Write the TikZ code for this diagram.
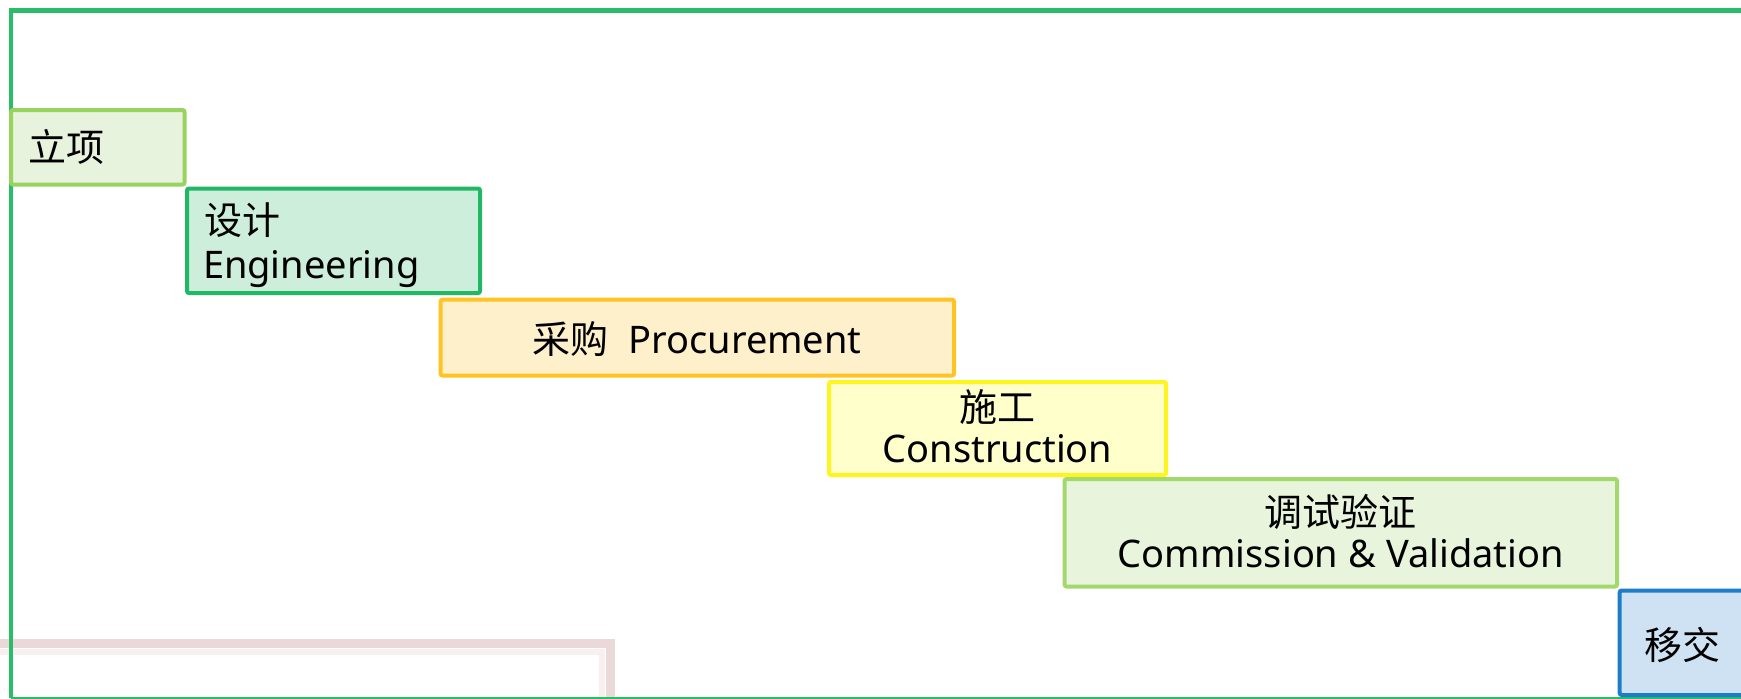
\documentclass[tikz,border=0pt]{standalone}
\usepackage{fontspec}
\setmainfont{Noto Sans}
\newfontfamily\cjk{Noto Sans CJK SC}
\definecolor{framegreen}{RGB}{41,189,106}
\definecolor{lxstroke}{RGB}{150,212,95}
\definecolor{lxfill}{RGB}{232,243,221}
\definecolor{sjstroke}{RGB}{34,183,100}
\definecolor{sjfill}{RGB}{204,238,218}
\definecolor{cgstroke}{RGB}{255,196,36}
\definecolor{cgfill}{RGB}{255,240,204}
\definecolor{sgstroke}{RGB}{255,245,30}
\definecolor{sgfill}{RGB}{255,255,204}
\definecolor{tsstroke}{RGB}{163,217,108}
\definecolor{tsfill}{RGB}{232,244,220}
\definecolor{yjstroke}{RGB}{30,125,200}
\definecolor{yjfill}{RGB}{207,226,243}
\definecolor{wmark}{RGB}{222,192,194}
\tikzset{
  stagebox/.style={rectangle, draw, line width=4pt, rounded corners=2pt, inner sep=0pt},
  txt/.style={inner sep=0pt, outer sep=0pt, anchor=base, font=\fontsize{38}{45}\selectfont},
  txtw/.style={txt, anchor=base west},
}
\begin{document}
\begin{tikzpicture}[x=1pt,y=-1pt]
\useasboundingbox (0,0) rectangle (1741,699);
\clip (0,0) rectangle (1741,699);
% faint watermark remnant
\draw[wmark!60, line width=9pt] (-5,643) -- (610,643) -- (610,710);
\draw[wmark!25, line width=6pt] (-5,652) -- (602,652) -- (602,710);
% outer frame
\coordinate (ftr) at (1760,10.5);
\coordinate (ftl) at (11,10.5);
\coordinate (fbl) at (11,698);
\coordinate (fbr) at (1760,698);
\draw[framegreen, line width=4.5pt] (ftr) -- (ftl) -- (fbl);
\draw[framegreen, line width=2pt] (fbl) -- (fbr);
% stages
\node[stagebox, draw=lxstroke, fill=lxfill, minimum width=173.5pt, minimum height=74.5pt] (b1) at (97.75,147.25) {};
\node[stagebox, draw=sjstroke, fill=sjfill, minimum width=293pt, minimum height=104.5pt] (b2) at (333.5,240.75) {};
\node[stagebox, draw=cgstroke, fill=cgfill, minimum width=513.4pt, minimum height=75.9pt] (b3) at (697.3,337.55) {};
\node[stagebox, draw=sgstroke, fill=sgfill, minimum width=337pt, minimum height=93pt] (b4) at (997.5,428.5) {};
\node[stagebox, draw=tsstroke, fill=tsfill, minimum width=552.4pt, minimum height=107.5pt] (b5) at (1340.8,532.75) {};
\node[stagebox, draw=yjstroke, fill=yjfill, minimum width=140.3pt, minimum height=104.5pt] (b6) at (1689.85,642.75) {};
% texts
\node[txtw] (t1) at (28.5,161) {\cjk 立项};
\node[txtw] (t2a) at (204,234.5) {\cjk 设计};
\node[txtw] (t2b) at (203,278) {Engineering};
\node[txt] (t3) at (697,353) {{\cjk 采购}\hspace{20pt}Procurement};
\node[txt] (t4a) at (997.5,421) {\cjk 施工};
\node[txt] (t4b) at (997.5,462) {Construction};
\node[txt] (t5a) at (1340.8,526) {\cjk 调试验证};
\node[txt] (t5b) at (1340.8,567) {Commission \& Validation};
\node[txt] (t6) at (1682.7,659.5) {\cjk 移交};
\end{tikzpicture}
\end{document}
